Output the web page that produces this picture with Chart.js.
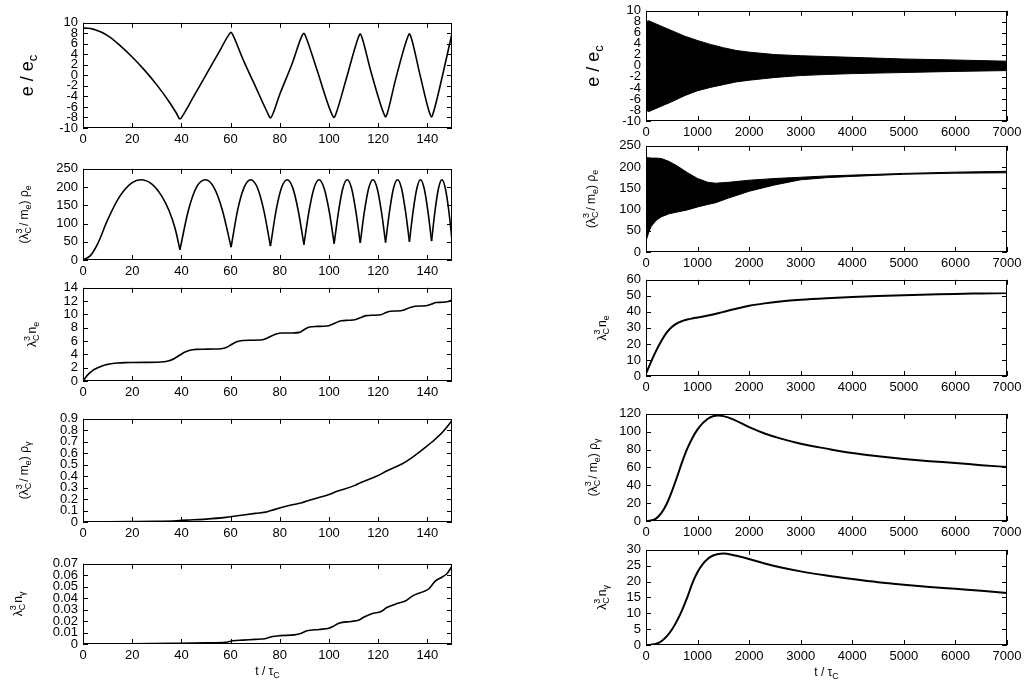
<!DOCTYPE html>
<html>
<head>
<meta charset="utf-8">
<script src="https://cdn.jsdelivr.net/npm/chart.js@4.4.0/dist/chart.umd.min.js"></script>
<style>
html, body { margin: 0; padding: 0; background: #fff; overflow: hidden; width: 1027px; height: 684px; }
canvas { position: absolute; }
</style>
</head>
<body>
<script>
// ---- left column, 0 <= t <= 150 ----
const tE = [0,2,4,6,8,10,12,15,20,25,30,35,38,39.4,40.6,45,50,55,59.4,60.2,61,65,70,75,76.2,77.2,80,85,89,89.8,90.6,95,101.3,102.1,102.9,107,112,112.7,113.4,117,122.3,123,123.7,127,132,132.7,133.4,137,141,141.7,142.4,146,150];
const eE = [9.0,8.95,8.8,8.5,8.1,7.55,6.9,5.7,3.5,1.0,-1.8,-5.0,-7.2,-8.3,-7.6,-4.0,0.1,4.2,7.8,8.2,7.6,3.1,-2.0,-7.1,-8.1,-7.3,-3.6,2.2,7.5,8.0,7.3,1.2,-7.5,-8.0,-7.2,-0.7,7.3,7.9,7.2,0.8,-7.3,-7.9,-7.2,-0.9,7.3,7.9,7.2,0.1,-7.3,-7.9,-7.1,-0.3,8.0];

const tRhoE = [0,3,6,10,15,20,23.5,28,32,35,37.5,39.4,
  42.8,46.1,49.8,53.2,56.6,60.2,
  62.9,65.5,68.2,70.9,73.5,76.2,
  78.5,80.7,83,85.3,87.5,89.8,
  91.9,93.9,95.95,98,100.05,102.1,
  103.9,105.6,107.4,109.2,110.9,112.7,
  114.4,116.1,117.85,119.6,121.3,123,
  124.6,126.2,127.85,129.5,131.1,132.7,
  134.2,135.7,137.2,138.7,140.2,141.7,
  143.1,144.5,145.9,147.3,148.7,150];
const rhoE = [0,12,45,110,175,212,220,208,175,135,85,28,
  135,199,220,199,138,35,
  138,199,220,198,136,38,
  136,198,220,197,135,42,
  135,197,220,197,135,45,
  134,196,220,196,134,47,
  133,196,220,196,133,48,
  133,196,220,196,133,50,
  134,196,220,196,134,52,
  135,196,220,196,135,55];

const tNe = [0,1,2,4,6,8,10,12,14,17,20,25,30,33,35,37,39.4,41.5,43.5,46,49,53,56,58,60.2,62.5,65,68,72,74,76.2,78.5,81,85,88,89.8,92,95,99,102.1,105,108,110.5,112.7,115,118,121,123,125,128,130.5,132.7,135,138,140,141.7,143.5,146,148.5,150];
const nE = [0,0.5,0.95,1.6,2.0,2.3,2.5,2.62,2.7,2.76,2.78,2.8,2.82,2.9,3.05,3.35,3.9,4.35,4.62,4.75,4.78,4.8,4.85,5.0,5.45,5.9,6.08,6.12,6.15,6.3,6.7,7.05,7.2,7.22,7.3,7.7,8.1,8.2,8.25,8.65,9.05,9.12,9.2,9.5,9.82,9.88,9.95,10.25,10.48,10.52,10.68,11.0,11.22,11.27,11.35,11.55,11.78,11.83,11.95,12.15];

const tRhoG = [0,10,20,30,38,42,50,58,62,70,75,78,85,89,92,100,103,110,113,120,123,130,133,140,142,146,150];
const rhoG = [0,0.001,0.003,0.006,0.011,0.016,0.025,0.04,0.052,0.075,0.09,0.11,0.15,0.168,0.19,0.24,0.265,0.315,0.345,0.405,0.44,0.51,0.55,0.665,0.7,0.78,0.885];

const tNg = [0,20,40,50,58,61,65,70,74,77,80,86,88.5,91,96,100,101.5,104,109,112,114.5,118,121,123.5,128,131,134,138,140.5,143,146,148,150];
const nG = [0,0.0002,0.0007,0.001,0.0015,0.0028,0.0034,0.004,0.0046,0.0065,0.0073,0.008,0.0092,0.0115,0.0127,0.0138,0.0152,0.0182,0.0197,0.0208,0.0238,0.0268,0.0282,0.0318,0.0355,0.0375,0.042,0.0455,0.048,0.0545,0.0585,0.0615,0.068];

// ---- right column, 0 <= t <= 7000 (fast oscillations shown as envelopes) ----
const tBandE = [0,50,250,500,750,1000,1250,1500,1750,2000,2500,3000,3500,4000,5000,6000,7000];
const eUpper = [8.0,8.2,7.4,6.4,5.4,4.6,3.9,3.3,2.8,2.5,2.05,1.85,1.7,1.55,1.25,1.07,0.85];
const eLower = [-8.0,-8.3,-7.5,-6.5,-5.4,-4.5,-3.9,-3.4,-2.9,-2.6,-2.1,-1.75,-1.55,-1.4,-1.2,-1.0,-0.85];

const tBandRho = [0,50,100,200,300,450,600,800,1000,1200,1350,1600,2000,2500,3000,3500,4000,5000,6000,7000];
const rhoUpper = [222,222,221,221,220,213,203,187,173,164,162,164,169,173,176,179,181,185,188,190];
const rhoLower = [26,45,60,75,83,90,94,99,106,112,116,127,143,158,170,175,178,183,185.5,186.5];

const tNeR = [0,100,200,300,400,500,600,700,800,900,1000,1250,1500,1750,2000,2300,2600,3000,3500,4000,4500,5000,5500,6000,6500,7000];
const nER = [1.5,9,16,22,27,30.5,32.8,34.2,35.2,35.9,36.5,38,40,42,43.8,45.3,46.4,47.5,48.5,49.3,49.9,50.4,50.8,51.2,51.5,51.8];

const tRhoGR = [0,100,200,300,400,500,600,700,800,900,1000,1100,1200,1300,1400,1500,1700,2000,2300,2600,3000,3500,4000,4500,5000,5500,6000,6500,7000];
const rhoGR = [0,0.5,3,9,19,33,49,66,81,93,102.5,109.5,114.5,117.3,118,117.4,113.5,105,98,92.5,86.5,81,76,72.5,69.5,67,65,62.5,60.5];

const tNgR = [0,100,200,300,400,500,600,700,800,900,1000,1100,1200,1300,1400,1500,1700,2000,2300,2600,3000,3500,4000,4500,5000,5500,6000,6500,7000];
const nGR = [0,0.1,0.4,1.2,2.7,4.8,7.6,11,15,19.5,23,25.5,27.2,28.2,28.7,28.8,28.3,27.1,25.7,24.5,23.2,21.9,20.8,19.8,19,18.3,17.7,17.1,16.4];

// axis labels: [text, kind, text2]  kind: sub | sup | ss (stacked sup/sub)
const LBL_E = [['e / e'], ['c', 'sub']];
const LBL_RHO_E = [['(λ'], ['3', 'ss', 'C'], ['/ m'], ['e', 'sub'], [') ρ'], ['e', 'sub']];
const LBL_N_E = [['λ'], ['3', 'ss', 'C'], ['n'], ['e', 'sub']];
const LBL_RHO_G = [['(λ'], ['3', 'ss', 'C'], ['/ m'], ['e', 'sub'], [') ρ'], ['γ', 'sub']];
const LBL_N_G = [['λ'], ['3', 'ss', 'C'], ['n'], ['γ', 'sub']];
const LBL_T = [['t / τ'], ['C', 'sub']];

const FONT = '"Liberation Sans", Arial, Helvetica, sans-serif';
const COLS = {
    L: { left: 83, right: 452, xMax: 150, xStep: 20 },
    R: { left: 646, right: 1007, xMax: 7000, xStep: 1000 }
};
const Y_AXIS_W = 80, PAD_TOP = 8, PAD_RIGHT = 20;

function pts(t, v) {
    return t.map((x, i) => ({ x: x, y: v[i] }));
}

function line(t, v, width) {
    return {
        data: pts(t, v), borderColor: '#000', borderWidth: width || 1.6,
        pointRadius: 0, fill: false, cubicInterpolationMode: 'monotone'
    };
}

// split at the cusps (local minima) so every arch gets its own smooth curve
function arches(t, v) {
    const out = [];
    let start = 0;
    for (let i = 1; i < v.length; i++) {
        const isMin = i < v.length - 1 && v[i] < v[i - 1] && v[i] < v[i + 1];
        if (isMin || i === v.length - 1) {
            out.push(line(t.slice(start, i + 1), v.slice(start, i + 1)));
            start = i;
        }
    }
    return out;
}

function band(t, up, low) {
    return [
        { data: pts(t, up), borderColor: '#000', backgroundColor: '#000', borderWidth: 1, pointRadius: 0, fill: '+1', tension: 0 },
        { data: pts(t, low), borderColor: '#000', borderWidth: 1, pointRadius: 0, fill: false, tension: 0 }
    ];
}

function fmt(d) {
    return v => (v === 0 ? '0' : Number(v).toFixed(d));
}

function drawRich(ctx, segs, size, cx, cy, rotate) {
    const base = size + 'px ' + FONT;
    const small = Math.round(size * 0.72) + 'px ' + FONT;
    const parts = [];
    let w = 0;
    segs.forEach(([txt, kind, txt2]) => {
        if (!kind) {
            ctx.font = base;
            parts.push({ txt, font: base, dx: w, dy: 0 });
            w += ctx.measureText(txt).width;
        } else if (kind === 'sub') {
            ctx.font = small;
            parts.push({ txt, font: small, dx: w, dy: size * 0.3 });
            w += ctx.measureText(txt).width;
        } else if (kind === 'sup') {
            ctx.font = small;
            parts.push({ txt, font: small, dx: w, dy: -size * 0.4 });
            w += ctx.measureText(txt).width;
        } else {
            ctx.font = small;
            parts.push({ txt, font: small, dx: w, dy: -size * 0.42 });
            parts.push({ txt: txt2, font: small, dx: w, dy: size * 0.3 });
            w += Math.max(ctx.measureText(txt).width, ctx.measureText(txt2).width) + 1;
        }
    });
    ctx.save();
    ctx.translate(cx, cy);
    if (rotate) ctx.rotate(-Math.PI / 2);
    ctx.fillStyle = '#000';
    ctx.textAlign = 'left';
    ctx.textBaseline = 'middle';
    parts.forEach(p => {
        ctx.font = p.font;
        ctx.fillText(p.txt, p.dx - w / 2, p.dy);
    });
    ctx.restore();
}

// gnuplot style frame: box border, inward ticks on all four sides, axis titles
function framePlugin(panel) {
    return {
        id: 'frame',
        afterDatasetsDraw(chart) {
            const { ctx, chartArea: a, scales: { x, y } } = chart;
            const L = 5;
            ctx.save();
            ctx.strokeStyle = '#000';
            ctx.lineWidth = 1;
            ctx.beginPath();
            x.ticks.forEach(tk => {
                const px = Math.round(x.getPixelForValue(tk.value)) + 0.5;
                ctx.moveTo(px, a.bottom); ctx.lineTo(px, a.bottom - L);
                ctx.moveTo(px, a.top); ctx.lineTo(px, a.top + L);
            });
            y.ticks.forEach(tk => {
                const py = Math.round(y.getPixelForValue(tk.value)) + 0.5;
                ctx.moveTo(a.left, py); ctx.lineTo(a.left + L, py);
                ctx.moveTo(a.right, py); ctx.lineTo(a.right - L, py);
            });
            ctx.stroke();
            ctx.strokeRect(Math.round(a.left) + 0.5, Math.round(a.top) + 0.5,
                Math.round(a.width) - 1, Math.round(a.height) - 1);
            ctx.restore();

            drawRich(ctx, panel.label, panel.size || 12, a.left + panel.lx, (a.top + a.bottom) / 2, true);
            if (panel.xTitle) {
                drawRich(ctx, LBL_T, 12, (a.left + a.right) / 2, a.bottom + 28, false);
            }
        }
    };
}

const panels = [
    { col: 'L', top: 18, bottom: 128, y: [-10, 10, 2], d: 0, label: LBL_E, size: 18, lx: -55, sets: [line(tE, eE)] },
    { col: 'L', top: 164, bottom: 260, y: [0, 250, 50], d: 0, label: LBL_RHO_E, lx: -58, sets: arches(tRhoE, rhoE) },
    { col: 'L', top: 283, bottom: 381, y: [0, 14, 2], d: 0, label: LBL_N_E, lx: -50, sets: [line(tNe, nE)] },
    { col: 'L', top: 414, bottom: 522, y: [0, 0.9, 0.1], d: 1, label: LBL_RHO_G, lx: -58, sets: [line(tRhoG, rhoG)] },
    { col: 'L', top: 559, bottom: 644, y: [0, 0.07, 0.01], d: 2, label: LBL_N_G, lx: -64, xTitle: true, sets: [line(tNg, nG)] },
    { col: 'R', top: 6, bottom: 121, y: [-10, 10, 2], d: 0, label: LBL_E, size: 18, lx: -52, sets: band(tBandE, eUpper, eLower) },
    { col: 'R', top: 141, bottom: 252, y: [0, 250, 50], d: 0, label: LBL_RHO_E, lx: -54, sets: band(tBandRho, rhoUpper, rhoLower) },
    { col: 'R', top: 275, bottom: 376, y: [0, 60, 10], d: 0, label: LBL_N_E, lx: -43, sets: [line(tNeR, nER, 2)] },
    { col: 'R', top: 409, bottom: 521, y: [0, 120, 20], d: 0, label: LBL_RHO_G, lx: -52, sets: [line(tRhoGR, rhoGR, 2)] },
    { col: 'R', top: 545, bottom: 645, y: [0, 30, 5], d: 0, label: LBL_N_G, lx: -43, xTitle: true, sets: [line(tNgR, nGR, 2)] }
];

function makePanel(panel) {
    const col = COLS[panel.col];
    const plotW = col.right - col.left;
    const plotH = panel.bottom - panel.top;
    const xh = panel.xTitle ? 40 : 17;
    const cv = document.createElement('canvas');
    cv.width = Y_AXIS_W + plotW + PAD_RIGHT;
    cv.height = PAD_TOP + plotH + xh;
    cv.style.left = (col.left - Y_AXIS_W) + 'px';
    cv.style.top = (panel.top - PAD_TOP) + 'px';
    document.body.appendChild(cv);

    const tickFont = { family: FONT, size: 13 };
    return new Chart(cv, {
        type: 'line',
        data: { datasets: panel.sets },
        options: {
            responsive: false,
            animation: false,
            devicePixelRatio: 1,
            layout: { padding: { top: PAD_TOP, right: PAD_RIGHT, left: 0, bottom: 0 } },
            plugins: { legend: { display: false }, tooltip: { enabled: false } },
            scales: {
                x: {
                    type: 'linear', min: 0, max: col.xMax,
                    grid: { display: false, drawTicks: false },
                    border: { display: false },
                    ticks: {
                        stepSize: col.xStep, includeBounds: false, autoSkip: false, maxRotation: 0,
                        padding: 4, color: '#000', font: tickFont, callback: v => String(v)
                    },
                    afterFit: s => { s.height = xh; }
                },
                y: {
                    type: 'linear', min: panel.y[0], max: panel.y[1],
                    grid: { display: false, drawTicks: false },
                    border: { display: false },
                    ticks: {
                        stepSize: panel.y[2], autoSkip: false, padding: 5, color: '#000',
                        font: tickFont, callback: fmt(panel.d)
                    },
                    afterFit: s => { s.width = Y_AXIS_W; }
                }
            }
        },
        plugins: [framePlugin(panel)]
    });
}

panels.forEach(makePanel);
</script>
</body>
</html>
